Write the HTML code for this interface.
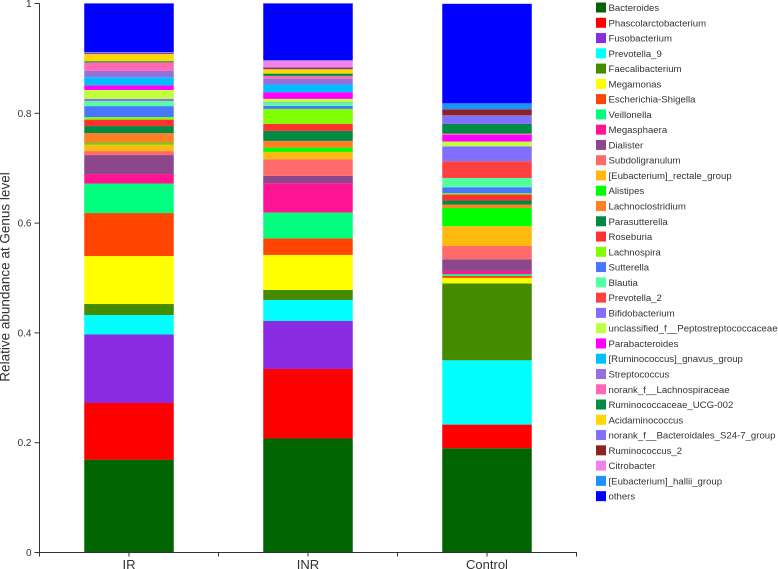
<!DOCTYPE html>
<html>
<head>
<meta charset="utf-8">
<title>Relative abundance at Genus level</title>
<style>
html,body{margin:0;padding:0;background:#fff;}
svg{display:block;}
text{font-family:"Liberation Sans",Arial,sans-serif;fill:#333;}
</style>
</head>
<body>
<svg id="chart" xmlns="http://www.w3.org/2000/svg" width="778" height="569" viewBox="0 0 778 569">
<text x="0" y="0" transform="translate(9.5,277) rotate(-90)" text-anchor="middle" font-size="13.5">Relative abundance at Genus level</text>
</svg>
<script>
const groups = ["IR", "INR", "Control"];
const taxa = ["Bacteroides","Phascolarctobacterium","Fusobacterium","Prevotella_9","Faecalibacterium","Megamonas","Escherichia-Shigella","Veillonella","Megasphaera","Dialister","Subdoligranulum","[Eubacterium]_rectale_group","Alistipes","Lachnoclostridium","Parasutterella","Roseburia","Lachnospira","Sutterella","Blautia","Prevotella_2","Bifidobacterium","unclassified_f__Peptostreptococcaceae","Parabacteroides","[Ruminococcus]_gnavus_group","Streptococcus","norank_f__Lachnospiraceae","Ruminococcaceae_UCG-002","Acidaminococcus","norank_f__Bacteroidales_S24-7_group","Ruminococcus_2","Citrobacter","[Eubacterium]_hallii_group","others"];
const taxaColors = ["#006400","#ff0000","#8a2be2","#00ffff","#458b00","#ffff00","#ff4500","#00ff7f","#ff1493","#8b4789","#ff6a6a","#ffb90f","#00ff00","#ff7f24","#008b45","#ff3030","#7fff00","#4876ff","#54ff9f","#ff4040","#836fff","#c0ff3e","#ff00ff","#00bfff","#9370db","#ff69b4","#008b45","#ffd700","#836fff","#8b2323","#ee82ee","#1e90ff","#0000ff"];
const irValues = [.1692,.1031,.1248,.0355,.0200,.0874,.0783,.0537,.0173,.0346,.0073,.0118,.0027,.0182,.0128,.0118,.0046,.0200,.0091,.0003,.0036,.0164,.0086,.0146,.0115,.0155,.0022,.0128,.0011,.0011,.0007,.0007,.0889];
const inrValues = [.2077,.1266,.0874,.0383,.0182,.0638,.0301,.0470,.0536,.0133,.0304,.0133,.0078,.0122,.0182,.0128,.0273,.0055,.0064,.0004,.0005,.0055,.0122,.0138,.0109,.0049,.0042,.0077,.0009,.0024,.0129,.0005,.1035];
const controlValues = [.1900,.0430,0,.1171,.1399,.0102,.0036,.0031,.0060,.0213,.0242,.0359,.0333,.0062,.0073,.0109,.0024,.0109,.0169,.0304,.0273,.0086,.0120,0,0,.0026,.0175,0,.0158,.0109,0,.0109,.1812];
const yTickValues = [0, 0.2, 0.4, 0.6, 0.8, 1];

const groupValues = [irValues, inrValues, controlValues];
const svg = document.getElementById('chart');
const NS = 'http://www.w3.org/2000/svg';
const plotLeft = 39.5, plotRight = 576.5, plotBottom = 552.5, plotTop = 3.5;
const bandWidth = (plotRight - plotLeft) / groups.length;
function yScale(v) { return plotBottom - v * (plotBottom - plotTop); }
function xBand(i) { return plotLeft + i * bandWidth; }
function add(tag, attrs, parent) {
  const el = document.createElementNS(NS, tag);
  for (const k in attrs) el.setAttribute(k, attrs[k]);
  (parent || svg).appendChild(el);
  return el;
}

groups.forEach(function (group, gi) {
  const barGroup = add('g', {});
  
  
  let cumulative = 0;
  groupValues[gi].forEach(function (value, ti) {
    if (value <= 0) return;
    const yTop = yScale(cumulative + value);
    const yBottom = yScale(cumulative);
    const seg = add('rect', {
      x: xBand(gi) + bandWidth / 4,
      y: yTop,
      width: bandWidth / 2,
      height: yBottom - yTop,
      fill: taxaColors[ti]
    }, barGroup);
    
    
    cumulative += value;
  });
});

const axisStroke = '#333';
const yAxisLine = add('line', {x1: plotLeft, y1: plotTop, x2: plotLeft, y2: plotBottom, stroke: axisStroke, 'stroke-width': 1});


const xAxisLine = add('line', {x1: plotLeft - 5, y1: plotBottom, x2: plotRight + 0.5, y2: plotBottom, stroke: axisStroke, 'stroke-width': 1});



yTickValues.forEach(function (value) {
  const y = yScale(value);
  const tick = add('line', {x1: plotLeft - 5, y1: y, x2: plotLeft, y2: y, stroke: axisStroke, 'stroke-width': 1});
  
  
  const label = add('text', {x: plotLeft - 8, y: y + 3.5, 'text-anchor': 'end', 'font-size': 10});
  
  
  label.textContent = String(value);
});

[0, 1, 2, 3].forEach(function (i) {
  const x = xBand(i);
  const tick = add('line', {x1: x, y1: plotBottom, x2: x, y2: plotBottom + 4, stroke: axisStroke, 'stroke-width': 1});
  
  
});
groups.forEach(function (group, gi) {
  const x = xBand(gi) + bandWidth / 2;
  const tick = add('line', {x1: x, y1: plotBottom, x2: x, y2: plotBottom + 4, stroke: axisStroke, 'stroke-width': 1});
  
  
  const label = add('text', {x: x, y: plotBottom + 16.5, 'text-anchor': 'middle', 'font-size': 13});
  
  
  label.textContent = group;
});

const legend = add('g', {});


const legendStart = 7.5, legendStep = 15.27;
taxa.forEach(function (name, i) {
  const cy = legendStart + i * legendStep;
  const entry = add('g', {}, legend);
  
  
  const swatch = add('rect', {x: 596, y: cy - 5, width: 10, height: 10, fill: taxaColors[i]}, entry);
  
  
  const label = add('text', {x: 608.5, y: cy + 3.5, 'font-size': 9.6}, entry);
  
  
  label.textContent = name;
});
</script>
</body>
</html>
